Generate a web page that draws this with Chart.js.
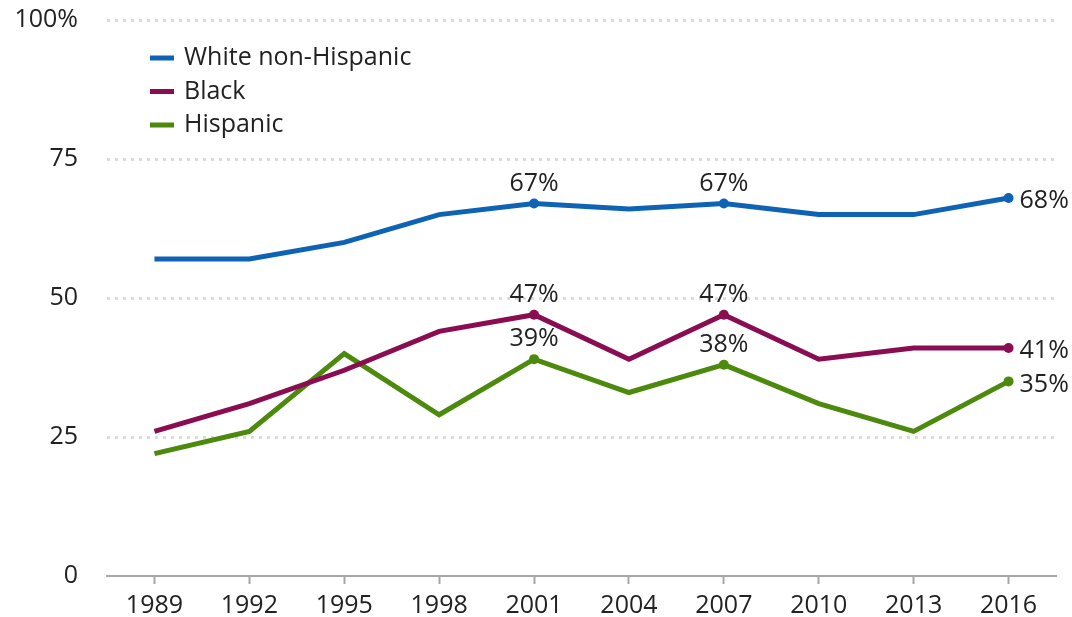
<!DOCTYPE html>
<html>
<head>
<meta charset="utf-8">
<style>
  html, body { margin: 0; padding: 0; background: #fff; }
  #wrap { width: 1072px; height: 617px; position: relative; }
</style>
<script src="https://cdn.jsdelivr.net/npm/chart.js@4/dist/chart.umd.min.js"></script>
</head>
<body>
<div id="wrap"><canvas id="c" width="1072" height="617"></canvas></div>
<script>
const years = ['1989','1992','1995','1998','2001','2004','2007','2010','2013','2016'];
const whiteNonHispanic = [57, 57, 60, 65, 67, 66, 67, 65, 65, 68];
const black = [26, 31, 37, 44, 47, 39, 47, 39, 41, 41];
const hispanic = [22, 26, 40, 29, 39, 33, 38, 31, 26, 35];
const seriesNames = ['White non-Hispanic', 'Black', 'Hispanic'];
const seriesColors = ['#0f63b5', '#8a0d52', '#4b8a0c'];
const yTicks = [0, 25, 50, 75, 100];
// indices of points that get a dot and a label above
const labeledAbove = [4, 6];
const lastIndex = years.length - 1;

const FONT = '"Open Sans", "Liberation Sans", sans-serif';
const FS = 25;
const TEXT = '#222222';

const markerRadius = (ctx) => (labeledAbove.includes(ctx.dataIndex) || ctx.dataIndex === lastIndex) ? 5 : 0;

const datasets = [whiteNonHispanic, black, hispanic].map((d, i) => ({
  label: seriesNames[i],
  data: d,
  borderColor: seriesColors[i],
  backgroundColor: seriesColors[i],
  borderWidth: 5,
  pointRadius: markerRadius,
  pointHoverRadius: markerRadius,
  pointBorderWidth: 0,
  tension: 0,
  borderJoinStyle: 'miter',
  borderCapStyle: 'butt'
}));

const labelPlugin = {
  id: 'valueLabels',
  afterDatasetsDraw(chart) {
    const ctx = chart.ctx;
    ctx.save();
    ctx.font = FS + 'px ' + FONT;
    ctx.fillStyle = TEXT;
    chart.data.datasets.forEach((ds, di) => {
      const meta = chart.getDatasetMeta(di);
      meta.data.forEach((pt, idx) => {
        const v = ds.data[idx] + '%';
        if (labeledAbove.includes(idx)) {
          ctx.textAlign = 'center';
          ctx.textBaseline = 'middle';
          ctx.fillText(v, pt.x, pt.y - 20);
        } else if (idx === lastIndex) {
          ctx.textAlign = 'left';
          ctx.textBaseline = 'middle';
          ctx.fillText(v, pt.x + 11, pt.y + 3);
        }
      });
    });
    ctx.restore();
  }
};

const legendPlugin = {
  id: 'insideLegend',
  afterDraw(chart) {
    const ctx = chart.ctx;
    ctx.save();
    ctx.font = FS + 'px ' + FONT;
    ctx.textAlign = 'left';
    ctx.textBaseline = 'middle';
    const x0 = 150, y0 = 58, step = 33.5;
    chart.data.datasets.forEach((ds, i) => {
      const y = y0 + i * step;
      ctx.fillStyle = ds.borderColor;
      ctx.fillRect(x0, y - 2.5, 24, 5);
      ctx.fillStyle = TEXT;
      ctx.fillText(ds.label, x0 + 34, y);
    });
    ctx.restore();
  }
};

new Chart(document.getElementById('c'), {
  type: 'line',
  data: { labels: years, datasets },
  options: {
    responsive: false,
    animation: false,
    devicePixelRatio: 1,
    layout: { padding: { top: 20, right: 16, bottom: 0, left: 0 } },
    plugins: {
      legend: { display: false },
      tooltip: { enabled: false }
    },
    scales: {
      x: {
        type: 'category',
        offset: true,
        grid: {
          display: true,
          offset: false,
          drawOnChartArea: false,
          drawTicks: true,
          tickLength: 8,
          tickWidth: 2,
          tickColor: '#a6a6a6'
        },
        border: { display: true, color: '#a6a6a6', width: 2 },
        ticks: {
          color: TEXT,
          font: { family: FONT, size: FS },
          padding: 7,
          maxRotation: 0,
          autoSkip: false
        },
        afterFit(scale) {
          scale.height = 41;
          scale.paddingLeft = 0; scale.paddingRight = 0;
        }
      },
      y: {
        min: 0,
        max: 100,
        afterBuildTicks(scale) { scale.ticks = yTicks.map(v => ({ value: v })); },
        grid: {
          drawTicks: false,
          lineWidth: 3,
          color: (c) => c.tick && c.tick.value === 0 ? 'rgba(0,0,0,0)' : '#dcdcdc'
        },
        border: { display: false, dash: [3, 5] },
        ticks: {
          color: TEXT,
          font: { family: FONT, size: FS },
          padding: 29,
          callback: (v) => v === 100 ? '100%' : String(v)
        },
        afterFit(scale) {
          scale.width = 107;
          scale.paddingTop = 0; scale.paddingBottom = 0;
        }
      }
    }
  },
  plugins: [labelPlugin, legendPlugin]
});
</script>
</body>
</html>
